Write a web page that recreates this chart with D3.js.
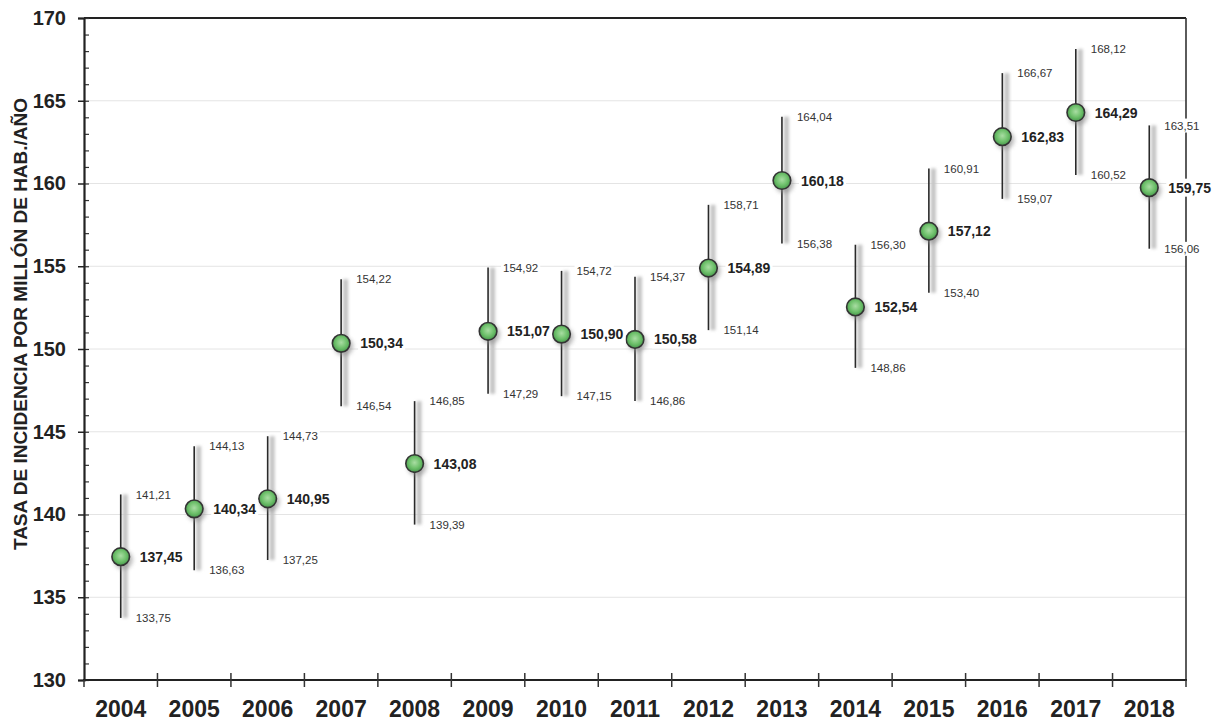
<!DOCTYPE html>
<html>
<head>
<meta charset="utf-8">
<script src="https://cdn.jsdelivr.net/npm/d3@7/dist/d3.min.js"></script>
<style>
  html, body { margin: 0; padding: 0; background: #fff; }
  svg { display: block; font-family: "Liberation Sans", Arial, sans-serif; }
</style>
</head>
<body>
<svg id="chart" width="1218" height="724"></svg>
<script>
// Incidence rate per million inhabitants per year, with 95% confidence limits
const years = ["2004","2005","2006","2007","2008","2009","2010","2011","2012","2013","2014","2015","2016","2017","2018"];
const rates = [137.45,140.34,140.95,150.34,143.08,151.07,150.90,150.58,154.89,160.18,152.54,157.12,162.83,164.29,159.75];
const lower = [133.75,136.63,137.25,146.54,139.39,147.29,147.15,146.86,151.14,156.38,148.86,153.40,159.07,160.52,156.06];
const upper = [141.21,144.13,144.73,154.22,146.85,154.92,154.72,154.37,158.71,164.04,156.30,160.91,166.67,168.12,163.51];
const yTicks = [130,135,140,145,150,155,160,165,170];
const yTitle = "TASA DE INCIDENCIA POR MILLÓN DE HAB./AÑO";

const fmt = v => v.toFixed(2).replace(".", ",");

const svg = d3.select("#chart");
const m = { left: 84, right: 1186, top: 18, bottom: 680 };

const x = d3.scaleBand().domain(years).range([m.left, m.right]).paddingInner(0).paddingOuter(0);
const y = d3.scaleLinear().domain([130, 170]).range([m.bottom, m.top]);

const defs = svg.append("defs");
const grad = defs.append("radialGradient").attr("id", "dotFill")
  .attr("cx", "50%").attr("cy", "45%").attr("r", "60%");
grad.append("stop").attr("offset", "0%").attr("stop-color", "#a9dda3");
grad.append("stop").attr("offset", "55%").attr("stop-color", "#6cbf69");
grad.append("stop").attr("offset", "100%").attr("stop-color", "#3f8f46");
defs.append("filter").attr("id", "soft").attr("x", "-100%").attr("y", "-20%").attr("width", "300%").attr("height", "140%")
  .append("feGaussianBlur").attr("stdDeviation", 1.8);
defs.append("filter").attr("id", "softDot").attr("x", "-50%").attr("y", "-50%").attr("width", "200%").attr("height", "200%")
  .append("feGaussianBlur").attr("stdDeviation", 2.2);

// Horizontal gridlines at the major ticks
svg.append("g").selectAll("line")
  .data(yTicks.filter(t => t > 130 && t < 170))
  .join("line")
  .attr("x1", m.left).attr("x2", m.right)
  .attr("y1", d => y(d)).attr("y2", d => y(d))
  .attr("stroke", "#e4e4e4").attr("stroke-width", 1);

// Frame: top and right edges
svg.append("line").attr("x1", m.left).attr("x2", m.right).attr("y1", m.top).attr("y2", m.top)
  .attr("stroke", "#222").attr("stroke-width", 2.2);
svg.append("line").attr("x1", m.right).attr("x2", m.right).attr("y1", m.top).attr("y2", m.bottom)
  .attr("stroke", "#333").attr("stroke-width", 1.6);

// Minor ticks (every unit) pointing into the plot
svg.append("g").attr("transform", `translate(${m.left},0)`)
  .call(d3.axisRight(y).tickValues(d3.range(130, 171, 1)).tickSize(5).tickFormat(""))
  .call(g => g.select(".domain").remove())
  .call(g => g.selectAll("line").attr("stroke", "#333").attr("stroke-width", 1.2));

// Left axis with major ticks and labels
svg.append("g").attr("transform", `translate(${m.left},0)`)
  .call(d3.axisLeft(y).tickValues(yTicks).tickSize(6).tickPadding(12).tickFormat(d3.format("d")))
  .call(g => g.select(".domain").attr("stroke", "#222").attr("stroke-width", 2.2))
  .call(g => g.selectAll("line").attr("stroke", "#222").attr("stroke-width", 1.5))
  .call(g => g.selectAll("text").attr("font-size", 20).attr("font-weight", "bold").attr("fill", "#222")
    .attr("font-family", "Liberation Sans, Arial, sans-serif"));

// Bottom axis: ticks on category boundaries, crossing the axis line
const bounds = years.map(d => x(d)).concat([m.right]);
svg.append("line").attr("x1", m.left - 1).attr("x2", m.right + 1).attr("y1", m.bottom).attr("y2", m.bottom)
  .attr("stroke", "#222").attr("stroke-width", 2.2);
svg.append("g").selectAll("line").data(bounds).join("line")
  .attr("x1", d => d).attr("x2", d => d)
  .attr("y1", (d, i) => (i === 0 || i === bounds.length - 1) ? m.bottom : m.bottom - 7)
  .attr("y2", m.bottom + 7)
  .attr("stroke", "#333").attr("stroke-width", 1.5);
svg.append("g").selectAll("text").data(years).join("text")
  .attr("x", d => x(d) + x.bandwidth() / 2)
  .attr("y", 717)
  .attr("text-anchor", "middle")
  .attr("font-size", 23).attr("font-weight", "bold").attr("fill", "#222")
  .text(d => d);

// Y axis title
svg.append("text")
  .attr("transform", "translate(27,324) rotate(-90)")
  .attr("text-anchor", "middle")
  .attr("font-size", 19).attr("font-weight", "bold").attr("fill", "#222")
  .text(yTitle);

const data = years.map((yr, i) => ({ yr, v: rates[i], lo: lower[i], hi: upper[i] }));
const cx = d => x(d.yr) + x.bandwidth() / 2;

const pts = svg.append("g").selectAll("g").data(data).join("g");

// Soft shadow beside each interval line
pts.append("rect")
  .attr("x", d => cx(d) + 2)
  .attr("y", d => y(d.hi))
  .attr("width", 5)
  .attr("height", d => y(d.lo) - y(d.hi))
  .attr("fill", "#c4c4c4")
  .attr("filter", "url(#soft)");

// Confidence interval line
pts.append("line")
  .attr("x1", cx).attr("x2", cx)
  .attr("y1", d => y(d.hi)).attr("y2", d => y(d.lo))
  .attr("stroke", "#2a2a2a").attr("stroke-width", 1.6);

// Marker shadow
pts.append("circle")
  .attr("cx", d => cx(d) + 2.5).attr("cy", d => y(d.v) + 3)
  .attr("r", 9.5)
  .attr("fill", "#8a8a8a").attr("opacity", 0.6)
  .attr("filter", "url(#softDot)");

// Marker
pts.append("circle")
  .attr("cx", cx).attr("cy", d => y(d.v))
  .attr("r", 8.8)
  .attr("fill", "url(#dotFill)")
  .attr("stroke", "#333").attr("stroke-width", 1.6);

// Labels with white backing boxes
function label(sel, tx, ty, text, size, weight, color) {
  const g = sel.append("g");
  const t = g.append("text")
    .attr("x", tx).attr("y", ty)
    .attr("dy", "0.36em")
    .attr("font-size", size).attr("font-weight", weight).attr("fill", color)
    .text(text);
  const bb = t.node().getBBox();
  g.insert("rect", "text")
    .attr("x", bb.x - 2).attr("y", bb.y - 1)
    .attr("width", bb.width + 4).attr("height", bb.height + 2)
    .attr("fill", "#fff");
}

const labelLayer = svg.append("g");
data.forEach(d => {
  label(labelLayer, cx(d) + 15, y(d.hi), fmt(d.hi), 11.5, "normal", "#333");
  label(labelLayer, cx(d) + 15, y(d.lo), fmt(d.lo), 11.5, "normal", "#333");
  label(labelLayer, cx(d) + 19, y(d.v), fmt(d.v), 14, "bold", "#222");
});
</script>
</body>
</html>
